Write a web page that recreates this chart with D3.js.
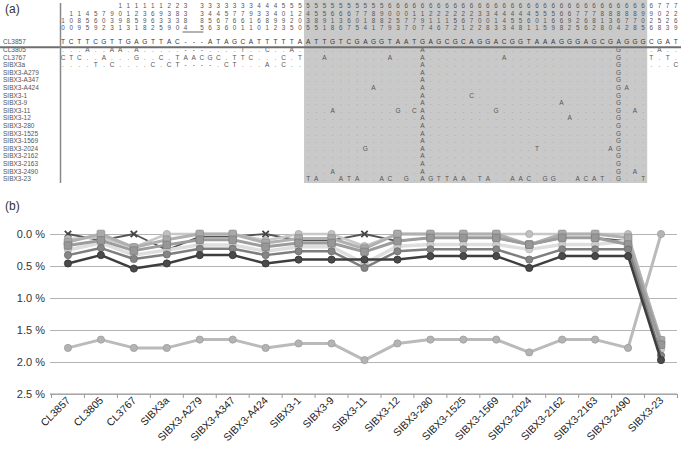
<!DOCTYPE html>
<html><head><meta charset="utf-8">
<script src="https://cdn.jsdelivr.net/npm/d3@7"></script>
<style>
body{margin:0;background:#fff}
svg{display:block}
text{font-family:"Liberation Sans",Arial,Helvetica,sans-serif}
</style>
</head><body>
<svg id="c" width="681" height="450"></svg>
<script>
// ---------- panel (a) data ----------
const refSeq = "TCTTCGTTGAGTTAC---ATAGCATTTTTAATTGTCGAGGTAATGAGCGCAGGACGGTAAAGGGAGCGAGGGCGAT";
const positions = [10,100,189,455,569,702,933,1091,1183,1251,1398,1662,1935,2339,2830,3384,null,3385,
  3456,3463,3576,3760,3761,3911,4360,4381,4492,5093,5125,5200,5435,5585,5591,5618,
  5636,5667,5705,5714,5881,5987,6029,6053,6077,6170,6197,6214,6216,6217,6252,6261,6272,6302,6308,6413,6443,6454,
  6458,6461,6501,6515,6569,6668,6692,6725,6766,6782,6818,6830,6864,6872,6878,6905,
  6926,7058,7223,7269];
const taxa = ["CL3857","CL3805","CL3767","SIBX3a","SIBX3-A279","SIBX3-A347","SIBX3-A424","SIBX3-1","SIBX3-9",
  "SIBX3-11","SIBX3-12","SIBX3-280","SIBX3-1525","SIBX3-1569","SIBX3-2024","SIBX3-2162","SIBX3-2163","SIBX3-2490","SIBX3-23"];
const rowStart = [0,0,0,0,30,30,30,30,30,30,30,30,30,30,30,30,30,30,30];
const rowEnd   = [75,75,75,75,71,71,71,71,71,71,71,71,71,71,71,71,71,71,71];
const rowDiffs = [
  "",
  "3A 6A 7A 9A 15- 16- 17- 22T 25C 28A 44A 68G 73A",
  "0C 1T 2C 5A 9G 12C 14T 15A 16A 17C 18G 19C 21T 22T 23C 27C 29T 32A 40A 44A 54A 68G 72T 74T",
  "4T 6C 11C 13C 14T 15- 16- 17- 18- 20C 21T 25A 27C 44A 68G 75C",
  "44A 68G",
  "44A 68G",
  "38A 44A 68G 69A",
  "44A 50C 68G",
  "44A 61A 68G",
  "33A 41G 43C 44A 53G 68G 70A",
  "44A 62A 68G",
  "44A 68G",
  "44A 68G",
  "44A 68G",
  "37G 44A 58T 67A 68G",
  "44A 68G",
  "44A 68G",
  "33A 44A 68G 70A",
  "30T 31A 34A 35T 36A 39A 40C 42G 44A 45G 46T 47T 48A 49A 51T 52A 55A 56A 57C 59G 60G 63A 64C 65A 66T 68G 71T"
];
const shadeFrom = 30, shadeTo = 71;

// ---------- panel (b) data ----------
const yTicks = [0, 0.5, 1.0, 1.5, 2.0, 2.5];
const seriesA = [0.46,0.33,0.54,0.46,0.33,0.33,0.46,0.40,0.40,0.40,0.40,0.345,0.345,0.345,0.53,0.345,0.345,0.345,1.97];
const seriesB = [0.33,0.22,0.39,0.32,0.23,0.23,0.33,0.27,0.27,0.53,0.27,0.24,0.24,0.24,0.40,0.24,0.24,0.24,1.90];
const seriesC = [0.25,0.14,0.33,0.25,0.17,0.17,0.27,0.20,0.20,0.46,0.19,0.165,0.165,0.165,0.24,0.165,0.165,0.11,1.80];
const seriesD = [0.18,0.10,0.26,0.17,0.09,0.09,0.20,0.14,0.14,0.28,0.11,0.06,0.06,0.06,0.165,0.06,0.06,0.165,1.73];
const seriesE = [0.126,0.0,0.21,0.09,0.0,0.0,0.14,0.07,0.07,0.23,0.0,0.0,0.0,0.0,0.165,0.0,0.0,0.06,1.66];
const seriesF = [0.0,0.10,0.0,0.25,0.04,0.04,0.0,0.10,0.10,0.0,0.11,0.06,0.06,0.06,0.17,0.06,0.06,0.11,1.85];
const seriesG = [0.08,0.05,0.21,0.0,0.0,0.0,0.10,0.0,0.0,0.19,0.0,0.0,0.0,0.0,0.0,0.0,0.0,0.0,1.70];
const seriesH = [1.78,1.65,1.78,1.78,1.65,1.65,1.78,1.71,1.71,1.97,1.71,1.65,1.65,1.65,1.85,1.65,1.65,1.78,0.0];

// ---------- drawing ----------
const svg = d3.select("#c");

// panel (a)
const colX = d3.scalePoint().domain(d3.range(refSeq.length)).range([63, 675.8]);
const step = colX.step();
const rowY = d3.scalePoint().domain(taxa).range([42.2, 179]);
const headY = [6, 13.4, 20.8, 28.2];
const fsHead = 6.3, fsRow = 6.5;

svg.append("rect")
  .attr("x", colX(shadeFrom) - step/2).attr("y", 0)
  .attr("width", colX(shadeTo) - colX(shadeFrom) + step).attr("height", 183)
  .attr("fill", "#c9c9c9");

svg.append("text").attr("x", 5).attr("y", 13).attr("font-size", 12).attr("fill", "#333").text("(a)");

const gA = svg.append("g").attr("text-anchor", "middle");
positions.forEach((p, c) => {
  if (p == null) return;
  const s = String(p).padStart(4, " ");
  for (let k = 0; k < 4; k++) {
    if (s[k] === " ") continue;
    gA.append("text").attr("x", colX(c)).attr("y", headY[k]).attr("dy", "0.35em")
      .attr("font-size", fsHead).attr("fill", "#555").text(s[k]);
  }
});
svg.append("line").attr("x1", colX(15) - 3).attr("x2", colX(17) + 1.5)
  .attr("y1", 32).attr("y2", 32).attr("stroke", "#666").attr("stroke-width", 1);

// names
svg.append("g").selectAll("text").data(taxa).join("text")
  .attr("x", 3).attr("y", d => rowY(d)).attr("dy", "0.35em")
  .attr("font-size", fsRow).attr("fill", "#555").text(d => d);

// rows
taxa.forEach((t, i) => {
  const g = gA.append("g").attr("font-size", fsRow);
  if (i === 0) {
    refSeq.split("").forEach((ch, c) => {
      g.append("text").attr("x", colX(c)).attr("y", rowY(t)).attr("dy", "0.35em")
        .attr("fill", "#333").text(ch);
    });
    return;
  }
  const diff = {};
  rowDiffs[i].split(" ").filter(Boolean).forEach(tok => { diff[+tok.slice(0, -1)] = tok.slice(-1); });
  for (let c = rowStart[i]; c <= rowEnd[i]; c++) {
    const ch = diff[c] || ".";
    const shaded = c >= shadeFrom && c <= shadeTo;
    g.append("text").attr("x", colX(c)).attr("y", rowY(t)).attr("dy", "0.35em")
      .attr("fill", ch === "." ? (shaded ? "#9a9a9a" : "#777") : "#555").text(ch);
  }
});

svg.append("line").attr("x1", 0).attr("x2", 681).attr("y1", 47.2).attr("y2", 47.2)
  .attr("stroke", "#6e6e6e").attr("stroke-width", 2);
svg.append("line").attr("x1", 60.5).attr("x2", 60.5).attr("y1", 3).attr("y2", 183)
  .attr("stroke", "#888").attr("stroke-width", 1.5);

// panel (b)
svg.append("text").attr("x", 5).attr("y", 210).attr("font-size", 12).attr("fill", "#333").text("(b)");

const xb = d3.scaleBand().domain(taxa).range([51.5, 677.5]);
const xc = d => xb(d) + xb.bandwidth() / 2;
const y = d3.scaleLinear().domain([0, 2.5]).range([234, 394]);

const yAxis = svg.append("g").attr("transform", "translate(50,0)")
  .call(d3.axisLeft(y).tickValues(yTicks).tickSize(-627).tickFormat(d => d.toFixed(1) + " %"));
yAxis.select(".domain").remove();
yAxis.selectAll(".tick line").attr("stroke", "#b4b4b4").attr("stroke-width", 1.2);
yAxis.selectAll(".tick text").attr("x", -5).attr("font-size", 11).attr("fill", "#333")
  .attr("font-family", "'Liberation Sans',Arial,sans-serif");

// x axis ticks at band boundaries
const bounds = taxa.map(d => xb(d)).concat([xb.range()[1]]);
svg.append("g").selectAll("line").data(bounds).join("line")
  .attr("x1", d => d).attr("x2", d => d).attr("y1", 394).attr("y2", 398)
  .attr("stroke", "#999").attr("stroke-width", 1);
svg.append("line").attr("x1", 50).attr("x2", 677).attr("y1", 394).attr("y2", 394)
  .attr("stroke", "#999").attr("stroke-width", 1.2);

svg.append("g").selectAll("text").data(taxa).join("text")
  .attr("transform", d => `translate(${xc(d) + 3},${401}) rotate(-45)`)
  .attr("text-anchor", "end").attr("font-size", 10.5).attr("fill", "#222").text(d => d);

const seriesList = [
  {v: seriesH, stroke: "#bababa", w: 3,   m: "circle", fill: "#b3b3b3", ms: "#9e9e9e"},
  {v: seriesF, stroke: "#555555", w: 1.8, m: "x",      fill: "none",    ms: "#444"},
  {v: seriesC, stroke: "#dedede", w: 3.5, m: "circle", fill: "#cdcdcd", ms: "#b5b5b5"},
  {v: seriesG, stroke: "#c8c8c8", w: 2.5, m: "circle", fill: "#c0c0c0", ms: "#a8a8a8"},
  {v: seriesE, stroke: "#b0b0b0", w: 3,   m: "square", fill: "#a9a9a9", ms: "#8e8e8e"},
  {v: seriesD, stroke: "#9c9c9c", w: 3,   m: "square", fill: "#979797", ms: "#7e7e7e"},
  {v: seriesB, stroke: "#7e7e7e", w: 2.5, m: "circle", fill: "#858585", ms: "#6e6e6e"},
  {v: seriesA, stroke: "#3e3e3e", w: 2.5, m: "circle", fill: "#4a4a4a", ms: "#333"}
];

const line = d3.line().x((d, i) => xc(taxa[i])).y(d => y(d));
seriesList.forEach(s => {
  const g = svg.append("g");
  g.append("path").datum(s.v).attr("d", line).attr("fill", "none")
    .attr("stroke", s.stroke).attr("stroke-width", s.w).attr("stroke-linejoin", "round");
  s.v.forEach((d, i) => {
    const cx = xc(taxa[i]), cy = y(d);
    if (s.m === "circle") {
      g.append("circle").attr("cx", cx).attr("cy", cy).attr("r", 3.6)
        .attr("fill", s.fill).attr("stroke", s.ms).attr("stroke-width", 0.8);
    } else if (s.m === "square") {
      g.append("rect").attr("x", cx - 3.8).attr("y", cy - 3.8).attr("width", 7.6).attr("height", 7.6)
        .attr("rx", 1.2).attr("fill", s.fill).attr("stroke", s.ms).attr("stroke-width", 0.8);
    } else {
      g.append("path").attr("d", `M${cx-3.2},${cy-3.2}L${cx+3.2},${cy+3.2}M${cx-3.2},${cy+3.2}L${cx+3.2},${cy-3.2}`)
        .attr("stroke", s.ms).attr("stroke-width", 1.8);
    }
  });
});
</script>
</body></html>
